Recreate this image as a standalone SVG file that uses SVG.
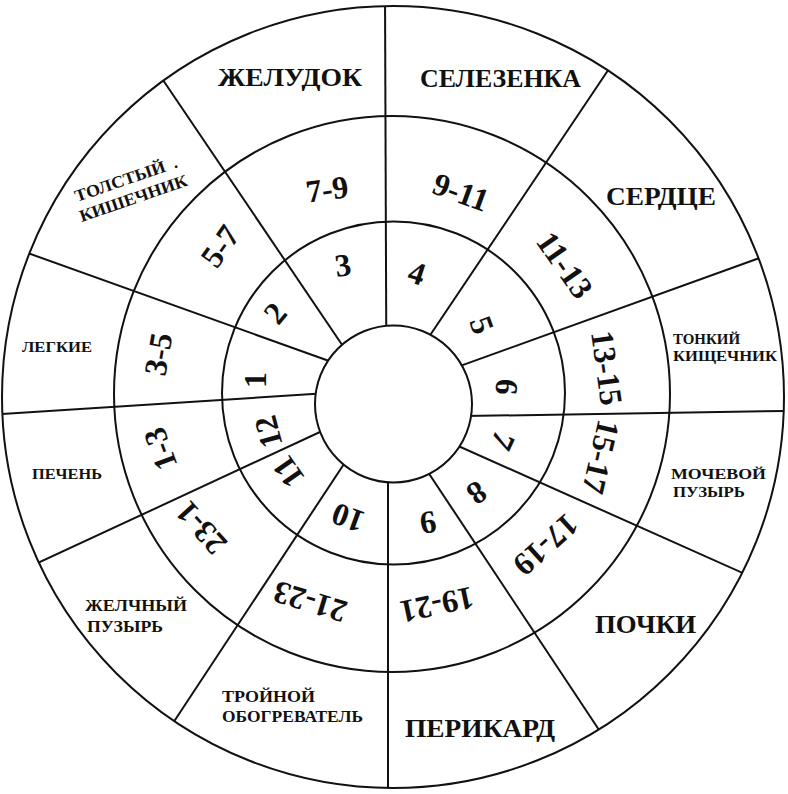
<svg xmlns="http://www.w3.org/2000/svg" width="788" height="794" viewBox="0 0 788 794">
<style>
.ln{stroke:#111;stroke-width:2;fill:none}
.t{font-family:"Liberation Serif","DejaVu Serif",serif;font-weight:bold;fill:#111}
.big{font-size:26px}
.sm{font-size:17px}
.sx{font-size:15px}
.xs{font-size:15px}
.num{font-size:32px;text-anchor:middle;dominant-baseline:central}
</style>
<defs>
<clipPath id="clipOuter"><circle cx="393" cy="397" r="391"/></clipPath>
</defs>
<rect width="788" height="794" fill="#fff"/>
<g id="connectors" class="ln" clip-path="url(#clipOuter)">
<line x1="385" y1="-10" x2="386.5" y2="400"/>
<line x1="626" y1="43.5" x2="400" y2="380"/>
<line x1="790" y1="247" x2="403.6" y2="386.4"/>
<line x1="800" y1="410.7" x2="420" y2="416.8"/>
<line x1="773" y1="586.5" x2="409" y2="424"/>
<line x1="615" y1="754" x2="406" y2="439"/>
<line x1="388" y1="420" x2="388" y2="800"/>
<line x1="160.5" y1="742" x2="375" y2="417"/>
<line x1="12" y1="575" x2="376" y2="406"/>
<line x1="-20" y1="415.5" x2="375" y2="390"/>
<line x1="-3" y1="242" x2="385" y2="381"/>
<line x1="142" y1="49" x2="376" y2="395"/>
</g>
<g id="rings" class="ln">
<circle cx="393" cy="397" r="391"/>
<circle cx="392" cy="394" r="278"/>
<circle cx="393.5" cy="393" r="171.5"/>
<circle cx="393.5" cy="404" r="78.5" fill="#fff"/>
</g>
<g id="organs" class="t">
<g id="zheludok"><text class="big" x="218" y="86" textLength="144" lengthAdjust="spacingAndGlyphs">ЖЕЛУДОК</text></g>
<g id="selezenka"><text class="big" x="420" y="87" textLength="161" lengthAdjust="spacingAndGlyphs">СЕЛЕЗЕНКА</text></g>
<g id="serdce"><text class="big" x="606" y="205" textLength="110" lengthAdjust="spacingAndGlyphs">СЕРДЦЕ</text></g>
<g id="tonkiy"><text class="sx" x="673" y="344" textLength="67" lengthAdjust="spacingAndGlyphs">ТОНКИЙ</text><text class="sx" x="673" y="361" textLength="104" lengthAdjust="spacingAndGlyphs">КИЩЕЧНИК</text></g>
<g id="mochevoy"><text class="sx" x="671" y="479" textLength="95" lengthAdjust="spacingAndGlyphs">МОЧЕВОЙ</text><text class="sx" x="673" y="497" textLength="72" lengthAdjust="spacingAndGlyphs">ПУЗЫРЬ</text></g>
<g id="pochki"><text class="big" x="595" y="633" textLength="101" lengthAdjust="spacingAndGlyphs">ПОЧКИ</text></g>
<g id="perikard"><text class="big" x="405" y="737" textLength="150" lengthAdjust="spacingAndGlyphs">ПЕРИКАРД</text></g>
<g id="troynoy"><text class="sm" x="222" y="702" textLength="93" lengthAdjust="spacingAndGlyphs">ТРОЙНОЙ</text><text class="sm" x="222" y="722" textLength="141" lengthAdjust="spacingAndGlyphs">ОБОГРЕВАТЕЛЬ</text></g>
<g id="zhelchny"><text class="sm" x="85" y="611" textLength="102" lengthAdjust="spacingAndGlyphs">ЖЕЛЧНЫЙ</text><text class="sm" x="87" y="632" textLength="76" lengthAdjust="spacingAndGlyphs">ПУЗЫРЬ</text></g>
<g id="pechen"><text class="xs" x="32" y="479" textLength="70" lengthAdjust="spacingAndGlyphs">ПЕЧЕНЬ</text></g>
<g id="legkie"><text class="xs" x="22" y="352" textLength="70" lengthAdjust="spacingAndGlyphs">ЛЕГКИЕ</text></g>
<g id="tolsty" transform="rotate(-19 77 202)"><text class="sm" x="77" y="202" textLength="95" lengthAdjust="spacingAndGlyphs">ТОЛСТЫЙ</text><text class="sm" x="180" y="202">.</text><text class="sm" x="75" y="222.5" textLength="113" lengthAdjust="spacingAndGlyphs">КИШЕЧНИК</text></g>
</g>
<g id="hours" class="t num">
<text transform="translate(327 189) rotate(-8)">7-9</text>
<text transform="translate(461 192) rotate(20)">9-11</text>
<text transform="translate(565 265) rotate(55)">11-13</text>
<text transform="translate(607 368) rotate(82)">13-15</text>
<text transform="translate(601 457) rotate(103)">15-17</text>
<text transform="translate(546 545) rotate(138)">17-19</text>
<text transform="translate(437 605) rotate(168)">19-21</text>
<text transform="translate(310 602) rotate(197)">21-23</text>
<text transform="translate(201 528) rotate(228)">23-1</text>
<text transform="translate(160 449) rotate(250)">1-3</text>
<text transform="translate(158 354) rotate(280)">3-5</text>
<text transform="translate(220 246) rotate(305)">5-7</text>
</g>
<g id="inner" class="t num">
<text transform="translate(255 380) rotate(-90)">1</text>
<text transform="translate(275 313) rotate(-50)">2</text>
<text transform="translate(343 265) rotate(-8)">3</text>
<text transform="translate(417 273) rotate(18)">4</text>
<text transform="translate(482 325) rotate(70)">5</text>
<text transform="translate(507 387) rotate(95)">6</text>
<text transform="translate(503 441) rotate(115)">7</text>
<text transform="translate(477 493) rotate(145)">8</text>
<text transform="translate(428 523) rotate(170)">9</text>
<text transform="translate(348 518) rotate(200)">10</text>
<text transform="translate(288 472) rotate(235)">11</text>
<text transform="translate(268 432) rotate(255)">12</text>
</g>
</svg>
